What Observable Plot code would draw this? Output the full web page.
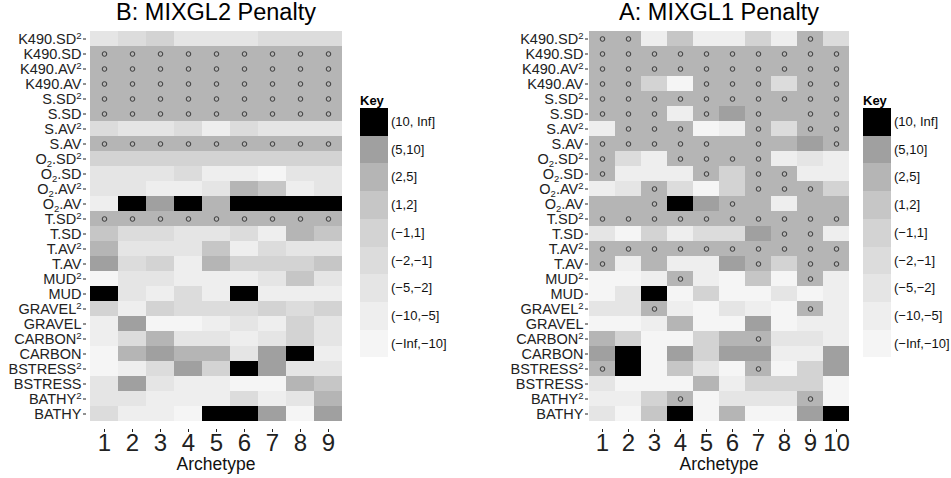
<!DOCTYPE html>
<html><head><meta charset="utf-8">
<script src="https://cdn.jsdelivr.net/npm/d3@7"></script>
<script src="https://cdn.jsdelivr.net/npm/@observablehq/plot@0.6"></script>
<style>
body{margin:0;background:#fff;font-family:"Liberation Sans",Arial,sans-serif;}
#wrap{position:relative;width:951px;height:478px;overflow:hidden;background:#fff;}
.abs{position:absolute;}
.title{font-size:23.5px;color:#000;white-space:nowrap;transform:translateX(-50%);line-height:1.1;}
.xlab{font-size:17.5px;color:#111;white-space:nowrap;transform:translateX(-50%);line-height:1;}
.key{font-size:13px;font-weight:bold;color:#000;line-height:1;}
.sw{width:28px;}
.lt{font-size:13px;color:#111;white-space:nowrap;line-height:1;}
</style></head><body><div id="wrap"></div>
<script>
const rowLabels = ["K490.SD²","K490.SD","K490.AV²","K490.AV","S.SD²","S.SD","S.AV²","S.AV",
  "O₂.SD²","O₂.SD","O₂.AV²","O₂.AV","T.SD²","T.SD","T.AV²","T.AV","MUD²","MUD",
  "GRAVEL²","GRAVEL","CARBON²","CARBON","BSTRESS²","BSTRESS","BATHY²","BATHY"];
const levels = ["(10, Inf]","(5,10]","(2,5]","(1,2]","(−1,1]","(−2,−1]","(−5,−2]","(−10,−5]","(−Inf,−10]"];
const grays = ["#000000","#a0a0a0","#b5b5b5","#c6c6c6","#d3d3d3","#dcdcdc","#e5e5e5","#eeeeee","#f5f5f5"];
// codes: 9 = (10,Inf] ... 1 = (-Inf,-10]; o = zero coefficient (drawn as (2,5] with circle)
const archetypesB = [1,2,3,4,5,6,7,8,9];
const panelB = [
  "345333444","ooooooooo","ooooooooo","ooooooooo","ooooooooo","ooooooooo","433424333","ooooooooo",
  "555555555","333422133","332237623","298979999","ooooooooo","644334276","733362433","845275556",
  "133222363","932429222","525444545","281123253","247332353","178773892","124859833","383221176",
  "332224237","422199818"];
const archetypesA = [1,2,3,4,5,6,7,8,9,10];
const panelA = [
  "oo262252o4","oooooooooo","oooooooooo","oo51ooo4oo","oooooooooo","ooo2o8o7oo","2ooo12o4oo","ooooo7o78o",
  "o42oooo232","o222o5oo22","23o415ooo5","77o98o7277","oooooooooo","3152448oo2","oooooooooo","o27228o5oo",
  "112o2161o2","1391511312","33o21321o2","1127118122","751157o332","8918588228","o91631o158","3111725551",
  "225o1333o1","3169171189"];

function cells(panel, arch){
  const out = [];
  panel.forEach((s,i)=>{ [...s].forEach((c,j)=>{
    out.push({row: rowLabels[i], col: arch[j], level: c==="o" ? levels[2] : levels[9 - (+c)], zero: c==="o"});
  });});
  return out;
}

const NS = "http://www.w3.org/2000/svg";
function scripts(svg){
  svg.querySelectorAll('g[aria-label="y-axis tick label"] text').forEach(t => {
    const s = t.textContent;
    if (!/[²₂]/.test(s)) return;
    t.textContent = "";
    let buf = "", shift = 0;
    const flush = () => { if (buf) { const ts = document.createElementNS(NS, "tspan"); if (shift) { ts.setAttribute("dy", -shift); shift = 0; } ts.textContent = buf; t.appendChild(ts); buf = ""; } };
    for (const ch of s) {
      if (ch === "²" || ch === "₂") {
        flush();
        const ts = document.createElementNS(NS, "tspan");
        const d = ch === "²" ? -5 : 3;
        ts.setAttribute("dy", d - shift);
        ts.setAttribute("font-size", "9.5px");
        ts.textContent = "2";
        t.appendChild(ts);
        shift = d;
      } else buf += ch;
    }
    flush();
  });
  return svg;
}

function heat(data, arch, width, ml, mr){
  return scripts(Plot.plot({
    width, height: 478, marginLeft: ml, marginRight: mr, marginTop: 22, marginBottom: 49,
    x: {type: "band", domain: arch, padding: 0, label: null},
    y: {type: "band", domain: rowLabels, padding: 0, label: null},
    color: {type: "ordinal", domain: levels, range: grays},
    style: {fontFamily: "'Liberation Sans', Arial, sans-serif", color: "#222", background: "transparent"},
    marks: [
      Plot.cell(data, {x: "col", y: "row", fill: "level"}),
      Plot.dot(data.filter(d => d.zero), {x: "col", y: "row", r: 2.3, stroke: "#3a3a3a", strokeWidth: 1}),
      Plot.axisX({fontSize: 24, tickSize: 3, tickPadding: 1, label: null}),
      Plot.axisY({fontSize: 14.5, tickSize: 3, tickPadding: 2, label: null})
    ]
  }));
}

const wrap = document.getElementById("wrap");
function place(el, left, top){ el.classList.add("abs"); el.style.left = left + "px"; el.style.top = top + "px"; wrap.appendChild(el); return el; }
function div(cls, text){ const d = document.createElement("div"); d.className = cls; d.textContent = text; return d; }

place(heat(cells(panelB, archetypesB), archetypesB, 350, 86, 4), 0, 0);
place(heat(cells(panelA, archetypesA), archetypesA, 372, 108, 2), 480, 0);

place(div("title", "B: MIXGL2 Penalty"), 216, 0);
place(div("title", "A: MIXGL1 Penalty"), 719, 0);
place(div("xlab", "Archetype"), 216, 456);
place(div("xlab", "Archetype"), 719, 456);

function legend(x){
  place(div("key", "Key"), x, 94);
  levels.forEach((lv, i) => {
    const top = Math.round(108 + i * 27.7), bot = Math.round(108 + (i + 1) * 27.7);
    const s = div("sw", ""); s.style.background = grays[i]; s.style.height = (bot - top) + "px";
    place(s, x, top);
    place(div("lt", lv), x + 31, top + 7);
  });
}
legend(360);
legend(863);
</script></body></html>
